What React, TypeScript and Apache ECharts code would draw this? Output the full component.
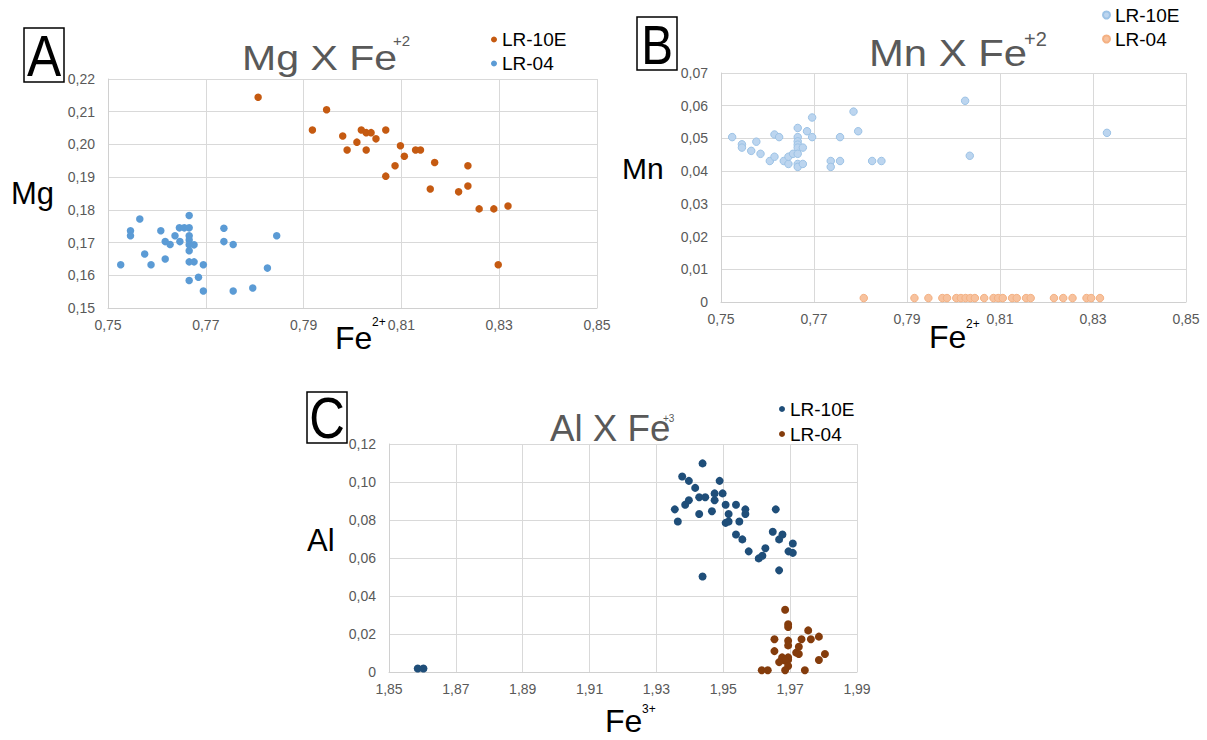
import React, { useEffect, useRef } from 'react';
import * as echarts from 'echarts';

const FONT = "'Liberation Sans', Arial, Helvetica, sans-serif";
const GRAY = '#595959';
const GRID = '#d9d9d9';

// ---------- Panel A: Mg x Fe2+ ----------
const A_LR10E_FE = [0.7807, 0.7947, 0.7918, 0.798, 0.7989, 0.8009, 0.8018, 0.8028, 0.8038, 0.8028, 0.8048, 0.8068, 0.8068, 0.8087, 0.8098, 0.8106, 0.8129, 0.8139, 0.8168, 0.8159, 0.8217, 0.8236, 0.8236, 0.8259, 0.8289, 0.8318, 0.8298];
const A_LR10E_MG = [0.2144, 0.2106, 0.2044, 0.2026, 0.1983, 0.2007, 0.2044, 0.2036, 0.2036, 0.1983, 0.2017, 0.2044, 0.1903, 0.1935, 0.1996, 0.1964, 0.1983, 0.1983, 0.1945, 0.1864, 0.1855, 0.1935, 0.1873, 0.1803, 0.1803, 0.1812, 0.1632];
const A_LR04_FE = [0.7526, 0.7565, 0.7546, 0.7546, 0.7575, 0.7588, 0.7608, 0.7617, 0.7627, 0.7617, 0.7637, 0.7647, 0.7646, 0.7656, 0.7666, 0.7666, 0.7666, 0.7666, 0.7666, 0.7676, 0.7666, 0.7666, 0.7676, 0.7695, 0.7685, 0.7666, 0.7695, 0.7737, 0.7737, 0.7756, 0.7756, 0.7796, 0.7826, 0.7845];
const A_LR04_MG = [0.1632, 0.1772, 0.1736, 0.1721, 0.1665, 0.1632, 0.1736, 0.1703, 0.1694, 0.165, 0.1721, 0.1703, 0.1745, 0.1745, 0.1745, 0.1783, 0.1721, 0.1708, 0.1693, 0.1693, 0.1675, 0.1641, 0.1641, 0.1632, 0.1594, 0.1584, 0.1552, 0.1744, 0.1703, 0.1694, 0.1552, 0.1561, 0.1622, 0.1721];

// ---------- Panel B: Mn x Fe2+ ----------
const B_LR10E_FE = [0.7524, 0.7545, 0.7545, 0.7565, 0.7576, 0.7585, 0.7605, 0.7615, 0.7615, 0.7625, 0.7635, 0.7645, 0.7645, 0.7655, 0.7665, 0.7665, 0.7665, 0.7665, 0.7665, 0.7665, 0.7665, 0.7665, 0.7676, 0.7676, 0.7685, 0.7696, 0.7696, 0.7736, 0.7736, 0.7756, 0.7756, 0.7785, 0.7795, 0.7825, 0.7845, 0.8025, 0.8035, 0.833];
const B_LR10E_MN = [0.0504, 0.0482, 0.0472, 0.0462, 0.049, 0.0453, 0.0431, 0.0512, 0.0444, 0.0504, 0.0431, 0.0422, 0.0444, 0.0453, 0.0532, 0.0504, 0.0491, 0.0481, 0.0472, 0.0453, 0.0422, 0.0413, 0.0472, 0.0422, 0.0522, 0.0564, 0.0504, 0.0431, 0.0413, 0.0504, 0.0431, 0.0582, 0.0522, 0.0431, 0.0431, 0.0615, 0.0447, 0.0517];
const B_LR04_FE = [0.7807, 0.7916, 0.7946, 0.7976, 0.7986, 0.8006, 0.8016, 0.8026, 0.8036, 0.8046, 0.8066, 0.8086, 0.8096, 0.8106, 0.8126, 0.8136, 0.8156, 0.8166, 0.8216, 0.8236, 0.8256, 0.8286, 0.8296, 0.8315];
const B_LR04_MN = [0.0012, 0.0012, 0.0012, 0.0012, 0.0012, 0.0012, 0.0012, 0.0012, 0.0012, 0.0012, 0.0012, 0.0012, 0.0012, 0.0012, 0.0012, 0.0012, 0.0012, 0.0012, 0.0012, 0.0012, 0.0012, 0.0012, 0.0012, 0.0012];

// ---------- Panel C: Al x Fe3+ ----------
const C_LR10E_FE = [1.8586, 1.8603, 1.9438, 1.9377, 1.9397, 1.9416, 1.9489, 1.9397, 1.9386, 1.9428, 1.9446, 1.9474, 1.9498, 1.9474, 1.9355, 1.9364, 1.9428, 1.9466, 1.9507, 1.9538, 1.9516, 1.9507, 1.9516, 1.9548, 1.9566, 1.9566, 1.9538, 1.9557, 1.9576, 1.9606, 1.9617, 1.9626, 1.9648, 1.9657, 1.9667, 1.9677, 1.9667, 1.9695, 1.9708, 1.9708, 1.9438];
const C_LR10E_AL = [0.0018, 0.0018, 0.1098, 0.1029, 0.1006, 0.0969, 0.1006, 0.0904, 0.088, 0.092, 0.092, 0.094, 0.094, 0.0904, 0.0856, 0.0792, 0.0832, 0.0846, 0.088, 0.088, 0.0832, 0.0785, 0.0792, 0.0792, 0.0856, 0.0832, 0.0724, 0.0698, 0.0635, 0.0598, 0.0612, 0.0651, 0.0738, 0.0856, 0.0698, 0.0724, 0.0535, 0.0635, 0.0627, 0.0676, 0.0503];
const C_LR04_FE = [1.9685, 1.9694, 1.9694, 1.9754, 1.9653, 1.9694, 1.9694, 1.9734, 1.9762, 1.9786, 1.9726, 1.9653, 1.9718, 1.9726, 1.9804, 1.9676, 1.9676, 1.9694, 1.9694, 1.9685, 1.9667, 1.9786, 1.9694, 1.9615, 1.9633, 1.9685, 1.9744];
const C_LR04_AL = [0.0328, 0.0251, 0.0237, 0.0219, 0.0172, 0.0165, 0.014, 0.0172, 0.0172, 0.0186, 0.0133, 0.011, 0.0102, 0.0095, 0.0095, 0.0077, 0.0065, 0.0077, 0.0065, 0.006, 0.0052, 0.0063, 0.0032, 0.0009, 0.0009, 0.0009, 0.0009];

// axis ranges
const A_X = { min: 0.75, max: 0.85, interval: 0.02 };
const A_Y = { min: 0.15, max: 0.22, interval: 0.01 };
const B_X = { min: 0.75, max: 0.85, interval: 0.02 };
const B_Y = { min: 0, max: 0.07, interval: 0.01 };
const C_X = { min: 1.85, max: 1.99, interval: 0.02 };
const C_Y = { min: 0, max: 0.12, interval: 0.02 };

const fmt = (v: number) => (Math.abs(v) < 1e-9 ? '0' : v.toFixed(2).replace('.', ','));
const zip = (xs: number[], ys: number[]) => xs.map((x, i) => [x, ys[i]]);

const xAxis = (gridIndex: number, r: { min: number; max: number; interval: number }) => ({
  type: 'value',
  gridIndex,
  min: r.min,
  max: r.max,
  interval: r.interval,
  axisLine: { show: true, lineStyle: { color: '#d0d0d0', width: 1 } },
  axisTick: { show: false },
  splitLine: { show: true, lineStyle: { color: GRID, width: 1 } },
  axisLabel: { color: GRAY, fontSize: 14, fontFamily: FONT, margin: 10, formatter: fmt },
});
const yAxis = (gridIndex: number, r: { min: number; max: number; interval: number }) => ({
  type: 'value',
  gridIndex,
  min: r.min,
  max: r.max,
  interval: r.interval,
  axisLine: { show: true, lineStyle: { color: '#d0d0d0', width: 1 } },
  axisTick: { show: false },
  splitLine: { show: true, lineStyle: { color: GRID, width: 1 } },
  axisLabel: { color: GRAY, fontSize: 14, fontFamily: FONT, margin: 13, formatter: fmt },
});

const legendBase = {
  orient: 'vertical',
  icon: 'circle',
  padding: 0,
  itemHeight: 6,
  itemWidth: 6,
  formatter: (n: string) => n.trim(),
  textStyle: { fontSize: 19, color: '#000', fontFamily: FONT, lineHeight: 19 },
};

const txt = (text: string, x: number, y: number, size: number, fill: string, extra: any = {}) => ({
  type: 'text',
  x,
  y,
  silent: true,
  ...extra,
  style: { text, x: 0, y: 0, fill, font: `${size}px ${FONT}`, align: extra.align || 'left', verticalAlign: 'middle' },
});

export default function App() {
  const ref = useRef<HTMLDivElement>(null);
  useEffect(() => {
    document.body.style.margin = '0';
    const chart = echarts.init(ref.current!, null, { renderer: 'svg' });
    const option: any = {
      animation: false,
      backgroundColor: '#ffffff',
      grid: [
        { left: 108, top: 79, width: 489, height: 229 },
        { left: 721, top: 73, width: 465, height: 229 },
        { left: 389, top: 444, width: 468, height: 228 },
      ],
      xAxis: [xAxis(0, A_X), xAxis(1, B_X), xAxis(2, C_X)],
      yAxis: [yAxis(0, A_Y), yAxis(1, B_Y), yAxis(2, C_Y)],
      legend: [
        { ...legendBase, left: 491, top: 30, itemGap: 5, data: ['LR-10E', 'LR-04'] },
        { ...legendBase, left: 1102, top: 5.5, itemGap: 5, itemWidth: 7, itemHeight: 7, data: ['LR-10E ', 'LR-04 '] },
        { ...legendBase, left: 779, top: 399.5, itemGap: 6, data: ['LR-10E  ', 'LR-04  '] },
      ],
      series: [
        { type: 'scatter', name: 'LR-10E', xAxisIndex: 0, yAxisIndex: 0, symbolSize: 7.5, itemStyle: { color: '#c55a11', opacity: 1 }, data: zip(A_LR10E_FE, A_LR10E_MG) },
        { type: 'scatter', name: 'LR-04', xAxisIndex: 0, yAxisIndex: 0, symbolSize: 7.5, itemStyle: { color: '#5b9bd5', opacity: 1 }, data: zip(A_LR04_FE, A_LR04_MG) },
        { type: 'scatter', name: 'LR-10E ', xAxisIndex: 1, yAxisIndex: 1, symbolSize: 7.5, itemStyle: { color: '#bcd5ef', borderColor: '#9dc3e6', borderWidth: 1, opacity: 1 }, data: zip(B_LR10E_FE, B_LR10E_MN) },
        { type: 'scatter', name: 'LR-04 ', xAxisIndex: 1, yAxisIndex: 1, symbolSize: 7.5, itemStyle: { color: '#f7c29e', borderColor: '#f4b183', borderWidth: 1, opacity: 1 }, data: zip(B_LR04_FE, B_LR04_MN) },
        { type: 'scatter', name: 'LR-10E  ', xAxisIndex: 2, yAxisIndex: 2, symbolSize: 8, itemStyle: { color: '#1f4e79', opacity: 1 }, data: zip(C_LR10E_FE, C_LR10E_AL) },
        { type: 'scatter', name: 'LR-04  ', xAxisIndex: 2, yAxisIndex: 2, symbolSize: 8, itemStyle: { color: '#843c0c', opacity: 1 }, data: zip(C_LR04_FE, C_LR04_AL) },
      ],
      graphic: [
        // panel letter boxes
        { type: 'rect', silent: true, shape: { x: 24, y: 28, width: 40, height: 54 }, style: { fill: 'none', stroke: '#000', lineWidth: 1.5 } },
        { type: 'rect', silent: true, shape: { x: 637, y: 17, width: 40, height: 53 }, style: { fill: 'none', stroke: '#000', lineWidth: 1.5 } },
        { type: 'rect', silent: true, shape: { x: 307, y: 392, width: 40, height: 51 }, style: { fill: 'none', stroke: '#000', lineWidth: 1.5 } },
        txt('A', 44, 56, 57, '#000', { align: 'center', scaleX: 0.9 }),
        txt('B', 657, 45, 56, '#000', { align: 'center', scaleX: 0.85 }),
        txt('C', 327, 418, 58, '#000', { align: 'center', scaleX: 0.85 }),
        // titles
        txt('Mg X Fe', 242, 57, 36, GRAY, { scaleX: 1.14 }),
        txt('+2', 393, 40.5, 15, GRAY),
        txt('Mn X Fe', 869, 52.5, 37, GRAY, { scaleX: 1.13 }),
        txt('+2', 1024, 39, 20, GRAY),
        txt('Al X Fe', 550, 429, 36, GRAY, { scaleX: 1.02 }),
        txt('+3', 663, 418, 10, GRAY),
        // axis names
        txt('Mg', 11, 193, 31, '#000'),
        txt('Mn', 622, 168, 30, '#000'),
        txt('Al', 307, 540.5, 31, '#000'),
        txt('Fe', 335, 338, 32, '#000'),
        txt('2+', 372, 322, 12, '#000'),
        txt('Fe', 929, 337, 32, '#000'),
        txt('2+', 966, 324, 12, '#000'),
        txt('Fe', 605, 721, 32, '#000'),
        txt('3+', 642, 709, 12, '#000'),
      ],
    };
    chart.setOption(option);
    return () => chart.dispose();
  }, []);
  return <div ref={ref} style={{ width: 1207, height: 740, background: '#fff' }} />;
}
